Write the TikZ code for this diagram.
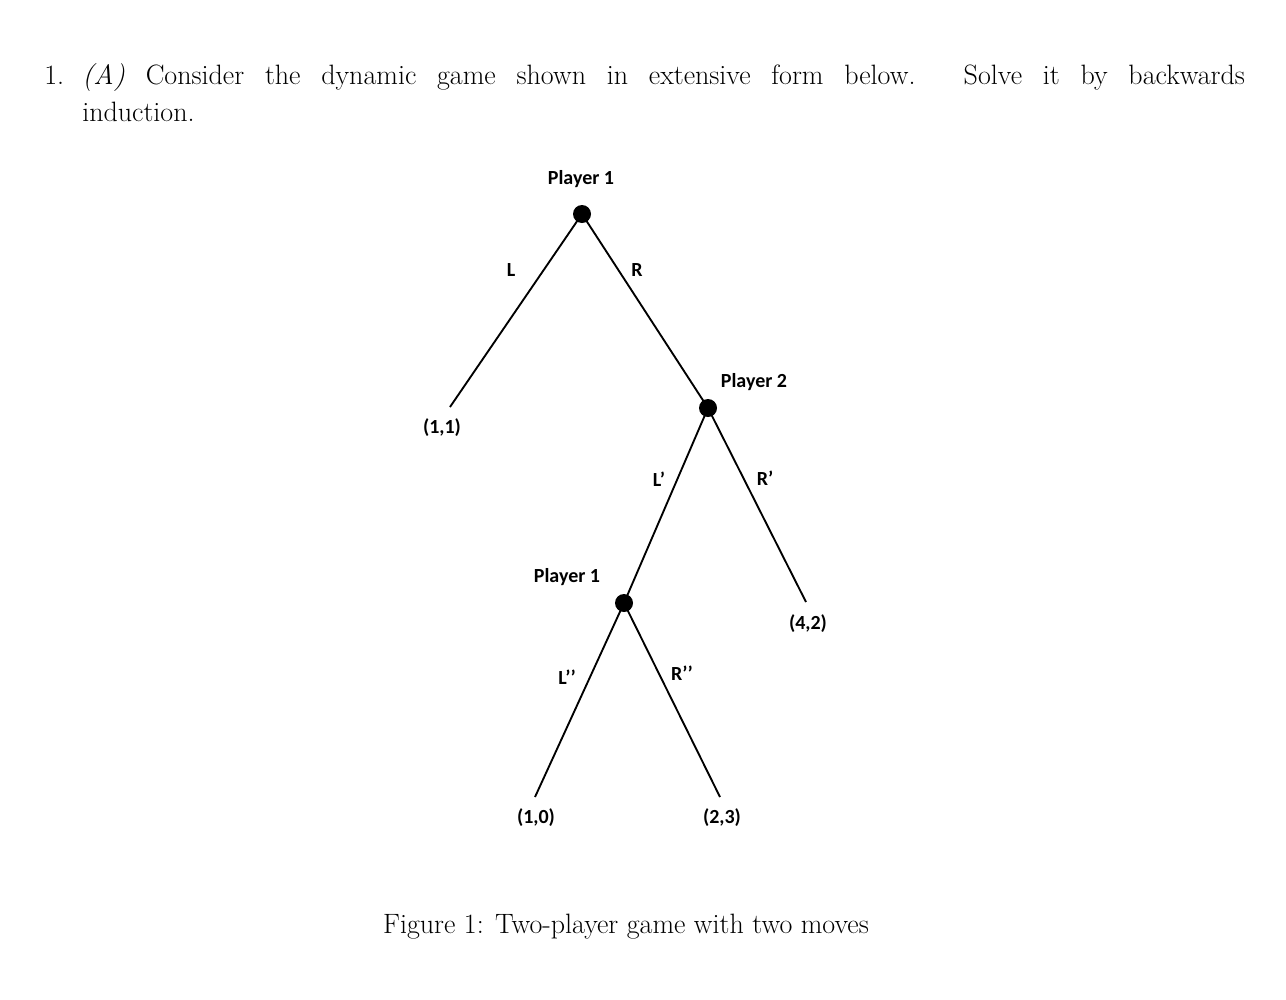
\documentclass[tikz,border=0pt]{standalone}
\usepackage{fontspec}
\newfontfamily\lab{Carlito}
\begin{document}
\begin{tikzpicture}[x=0.75pt,y=-0.75pt,
  dot/.style={circle,fill=black,inner sep=0pt,minimum size=13.5pt},
  lbl/.style={font=\lab\bfseries\fontsize{15}{18}\selectfont,inner sep=0pt},
  txt/.style={font=\fontsize{21}{25}\selectfont,inner sep=0pt},
  edge/.style={line width=1.4pt}]
\useasboundingbox (0,0) rectangle (1286,1000);
\node[dot] (r) at (582,214) {};
\node[dot] (p2) at (708,408) {};
\node[dot] (p1) at (624,603) {};
\coordinate (e1) at (450,407);
\coordinate (e2) at (806,602);
\coordinate (e3) at (535,797);
\coordinate (e4) at (720,797);
\draw[edge] (r.center) -- (e1);
\draw[edge] (r.center) -- (p2.center);
\draw[edge] (p2.center) -- (p1.center);
\draw[edge] (p2.center) -- (e2);
\draw[edge] (p1.center) -- (e3);
\draw[edge] (p1.center) -- (e4);
\node[lbl] (t1) at (581,179) {Player 1};
\node[lbl] (t2) at (754,382) {Player 2};
\node[lbl] (t3) at (567,577) {Player 1};
\node[lbl] (a1) at (511,270) {L};
\node[lbl] (a2) at (637,270) {R};
\node[lbl] (a3) at (659,479) {L’};
\node[lbl] (a4) at (765,478) {R’};
\node[lbl] (a5) at (567,677) {L’’};
\node[lbl] (a6) at (682,673) {R’’};
\node[lbl] (o1) at (442,428) {(1,1)};
\node[lbl] (o2) at (808,624) {(4,2)};
\node[lbl] (o3) at (536,818) {(1,0)};
\node[lbl] (o4) at (722,818) {(2,3)};
\node[txt,anchor=base west] (n) at (44,84) {1.};
\node[txt,anchor=base west] (l1) at (82,84) {\makebox[872pt][s]{\textit{(A)} Consider the dynamic game shown in extensive form below. Solve it by backwards}};
\node[txt,anchor=base west] (l2) at (82,121) {induction.};
\node[txt,anchor=base] (cap) at (626,933) {Figure 1: Two-player game with two moves};
\end{tikzpicture}
\end{document}
